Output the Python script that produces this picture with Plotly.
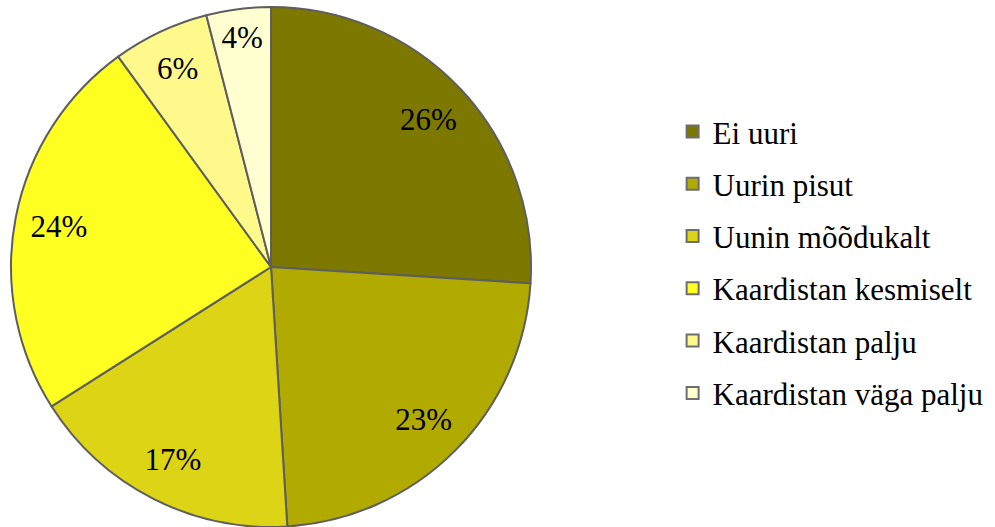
import plotly.graph_objects as go

labels = ["Ei uuri", "Uurin pisut", "Uunin mõõdukalt", "Kaardistan kesmiselt",
          "Kaardistan palju", "Kaardistan väga palju"]
values = [26, 23, 17, 24, 6, 4]
colors = ["#7D7800", "#B1AA00", "#DCD414", "#FFFF22", "#FFF98C", "#FFFFD0"]

FONT = "Liberation Serif"
dom_x = [11 / 995, 531 / 995]

fig = go.Figure()
# filled pie with borders
fig.add_trace(go.Pie(
    labels=labels, values=values, sort=False, direction="clockwise",
    marker=dict(colors=colors, line=dict(color="#5E5E5E", width=2)),
    textinfo="none", hoverinfo="label+percent", showlegend=False,
    domain=dict(x=dom_x, y=[0, 1]),
))
# transparent ring overlay that carries the percentage labels
fig.add_trace(go.Pie(
    labels=labels, values=values, sort=False, direction="clockwise", hole=0.66,
    marker=dict(colors=["rgba(0,0,0,0)"] * len(values), line=dict(width=0)),
    textinfo="percent", texttemplate="%{percent:.0%}", textposition="inside",
    insidetextorientation="horizontal",
    textfont=dict(family=FONT, size=31, color="black"),
    hoverinfo="skip", showlegend=False,
    domain=dict(x=dom_x, y=[0, 1]),
))
# legend entries
for i, (lab, col) in enumerate(zip(labels, colors)):
    fig.add_trace(go.Scatter(
        x=[None], y=[None], mode="markers", name=lab, legendgroup=str(i),
        marker=dict(symbol="square", size=18, color=col,
                    line=dict(color="#6E6E6E", width=1.5)),
    ))

fig.update_layout(
    width=995, height=527,
    margin=dict(l=0, r=0, t=7, b=0),
    paper_bgcolor="white", plot_bgcolor="white",
    xaxis=dict(visible=False), yaxis=dict(visible=False),
    showlegend=True,
    legend=dict(x=0.676, y=0.812, xanchor="left", yanchor="top",
                font=dict(family=FONT, size=31, color="black"),
                traceorder="grouped", tracegroupgap=9,
                bgcolor="rgba(0,0,0,0)", itemsizing="constant"),
)

fig.write_html("out.html", config={"displayModeBar": False},
               post_script="document.body.style.margin='0px';")
